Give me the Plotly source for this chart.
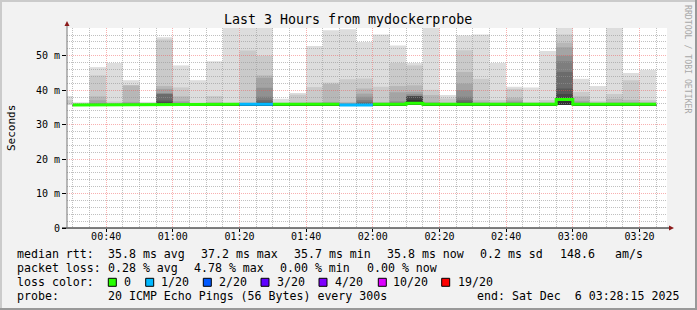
import plotly.graph_objects as go
from datetime import datetime, timedelta

# ---------------- data ----------------
graph_end = datetime(2025, 12, 6, 3, 28, 15)
graph_start = graph_end - timedelta(hours=3)
step_min = 5
first_bin_end = datetime(2025, 12, 6, 0, 30)
n_bins = 36
bin_ends = [first_bin_end + timedelta(minutes=step_min * k) for k in range(n_bins)]

# median RTT per 5-min bin (ms); None = not drawn
median_ms = [None, 35.7, 35.7, 35.7, 35.9, 35.9, 35.9, 35.9, 35.7, 35.7,
             35.9, 35.9, 35.9, 35.9, 35.9, 35.9, 35.9, 35.7, 35.7, 35.9,
             35.9, 36.2, 35.9, 35.9, 35.9, 35.9, 35.9, 35.9, 35.9, 35.9,
             37.3, 35.9, 35.9, 35.9, 35.9, 35.9]
# lost pings out of 20 per bin
loss_of_20 = [0, 0, 0, 0, 0, 0, 0, 0, 0, 0,
              0, 1, 1, 0, 0, 0, 0, 1, 1, 0,
              0, 0, 0, 0, 0, 0, 0, 0, 0, 0,
              0, 0, 0, 0, 0, 0]
# lower edge of smoke (lower half of the sorted pings, ms)
smoke_floor = [35.8, 35.5, 35.5, 35.5, 35.5, 35.5, 35.5, 35.5, 35.5, 35.5,
               35.5, 35.5, 35.5, 35.5, 35.5, 35.5, 35.5, 35.5, 35.5, 35.5,
               35.5, 35.8, 35.5, 35.5, 35.5, 35.5, 35.5, 35.5, 35.5, 35.5,
               35.7, 35.5, 35.5, 35.5, 35.5, 35.5]
# upper sorted pings (ms): 20th (max) .. 11th
ping20 = [38.3, 36.5, 46.7, 47.9, 42.9, 36.6, 55.4, 47.2, 42.9, 48.4,
          61.5, 63.0, 61.0, 37.5, 39.2, 52.8, 57.4, 57.7, 54.0, 56.2,
          53.0, 47.9, 60.0, 38.6, 55.9, 56.2, 47.9, 41.0, 40.8, 51.4,
          60.0, 43.3, 41.2, 60.0, 45.0, 45.9]
ping19 = [37.1, 36.2, 44.3, 36.7, 41.5, 36.3, 54.7, 40.8, 36.3, 38.3,
          36.4, 51.5, 50.0, 36.4, 38.7, 40.9, 42.2, 43.2, 43.4, 41.0,
          47.9, 47.2, 40.1, 37.6, 51.6, 43.3, 37.1, 40.4, 36.6, 37.1,
          56.2, 39.5, 36.8, 38.9, 42.9, 37.1]
ping18 = [35.8, 36.0, 38.2, 36.3, 41.4, 36.1, 41.2, 38.2, 36.1, 36.6,
          36.2, 36.4, 44.3, 36.2, 36.4, 36.6, 41.8, 36.6, 40.5, 36.6,
          41.2, 41.4, 38.6, 36.4, 45.3, 37.1, 36.5, 37.8, 36.3, 36.5,
          53.8, 38.2, 36.4, 37.5, 37.2, 36.5]
ping17 = [35.8, 35.9, 37.1, 36.1, 36.6, 36.0, 40.4, 36.8, 36.0, 36.2,
          36.1, 36.2, 43.6, 36.0, 36.2, 36.3, 36.6, 36.3, 39.0, 36.3,
          39.4, 39.5, 36.6, 36.2, 41.9, 36.5, 36.2, 37.0, 36.1, 36.2,
          52.5, 36.9, 36.2, 36.5, 36.5, 36.2]
ping16 = [35.8, 35.8, 36.3, 36.0, 36.3, 35.9, 39.1, 36.4, 35.9, 36.0,
          36.0, 36.1, 40.7, 35.9, 36.0, 36.1, 36.3, 36.1, 38.1, 36.1,
          36.8, 38.9, 36.3, 36.0, 40.0, 36.2, 36.0, 36.5, 36.0, 36.0,
          50.0, 36.4, 36.0, 36.2, 36.2, 36.0]
ping15 = [35.8, 35.8, 36.1, 35.9, 36.1, 35.9, 39.0, 36.2, 35.8, 35.9,
          35.9, 36.0, 38.1, 35.9, 35.9, 36.0, 36.1, 35.9, 37.1, 36.0,
          36.4, 38.4, 36.1, 35.9, 38.1, 36.0, 35.9, 36.2, 35.9, 35.9,
          48.4, 36.2, 35.9, 36.0, 36.0, 35.9]
ping14 = [35.8, 35.7, 36.0, 35.8, 36.0, 35.9, 38.9, 36.1, 35.8, 35.8,
          35.9, 35.9, 37.1, 35.9, 35.9, 35.9, 36.0, 35.8, 36.5, 35.9,
          36.2, 38.3, 36.0, 35.9, 37.1, 35.9, 35.9, 36.0, 35.9, 35.9,
          45.3, 36.0, 35.9, 35.9, 35.9, 35.9]
ping13 = [35.8, 35.7, 35.9, 35.8, 35.9, 35.9, 37.0, 36.0, 35.7, 35.8,
          35.9, 35.9, 36.5, 35.9, 35.9, 35.9, 35.9, 35.7, 36.2, 35.9,
          36.0, 38.3, 35.9, 35.9, 36.6, 35.9, 35.9, 35.9, 35.9, 35.9,
          40.5, 35.9, 35.9, 35.9, 35.9, 35.9]
ping12 = [35.8, 35.7, 35.8, 35.7, 35.9, 35.9, 36.5, 35.9, 35.7, 35.7,
          35.9, 35.9, 36.2, 35.9, 35.9, 35.9, 35.9, 35.7, 36.0, 35.9,
          35.9, 38.2, 35.9, 35.9, 36.2, 35.9, 35.9, 35.9, 35.9, 35.9,
          38.9, 35.9, 35.9, 35.9, 35.9, 35.9]
ping11 = [35.8, 35.7, 35.7, 35.7, 35.9, 35.9, 36.2, 35.9, 35.7, 35.7,
          35.9, 35.9, 36.0, 35.9, 35.9, 35.9, 35.9, 35.7, 35.8, 35.9,
          35.9, 37.1, 35.9, 35.9, 36.0, 35.9, 35.9, 35.9, 35.9, 35.9,
          37.8, 35.9, 35.9, 35.9, 35.9, 35.9]

x_tick_labels = ["00:40", "01:00", "01:20", "01:40", "02:00", "02:20", "02:40", "03:00", "03:20"]
y_tick_vals = [0, 10, 20, 30, 40, 50]
y_tick_labels = ["0", "10 m", "20 m", "30 m", "40 m", "50 m"]
y_max = 58.06

loss_levels = [0, 1, 2, 3, 4, 10, 19]
loss_labels = ["0", "1/20", "2/20", "3/20", "4/20", "10/20", "19/20"]
loss_colors = ["#26ff00", "#00b8ff", "#0059ff", "#5e00ff", "#7e00ff", "#dd00ff", "#ff0000"]

title = "Last 3 Hours from mydockerprobe"
stats_rtt = ["median rtt:", "35.8 ms avg", "37.2 ms max", "35.7 ms min", "35.8 ms now", "0.2 ms sd", "148.6", "am/s"]
stats_loss = ["packet loss:", "0.28 % avg", "4.78 % max", "0.00 % min", "0.00 % now"]
probe_text = ["probe:", "20 ICMP Echo Pings (56 Bytes) every 300s"]
end_text = "end: Sat Dec  6 03:28:15 2025"

# ---------------- layout helpers (pixel -> paper) ----------------
W, H = 697, 310
L, R, T, B = 67, 30, 28, 82
PW, PH = W - L - R, H - T - B


def X(px):
    return (px - L) / PW


def Y(py):
    return (H - B - py) / PH


MONO = "DejaVu Sans Mono"

fig = go.Figure()

# smoke layers
upper_sets = [ping20, ping19, ping18, ping17, ping16, ping15, ping14, ping13, ping12, ping11]
half = 10
bin_centers = [e - timedelta(minutes=step_min / 2) for e in bin_ends]
for i, ups in enumerate(upper_sets):
    ibot = i + 1
    c = int(190 / half * (half - ibot)) + 50
    col = "#%02x%02x%02x" % (c, c, c)
    fig.add_trace(go.Bar(
        x=bin_centers, y=[u - f for u, f in zip(ups, smoke_floor)], base=smoke_floor,
        width=step_min * 60 * 1000, marker=dict(color=col, line=dict(width=0)),
        hoverinfo="skip", xaxis="x", yaxis="y"))

# grid subplot on top of the smoke
fig.add_trace(go.Scatter(x=[graph_start], y=[0], mode="markers", marker=dict(opacity=0),
                         xaxis="x2", yaxis="y2", hoverinfo="skip"))

# median line coloured by loss
for lvl, col in zip(loss_levels, loss_colors):
    xs, ys = [], []
    for k in range(n_bins):
        m = median_ms[k]
        if m is None or loss_of_20[k] != lvl:
            if xs and xs[-1] is not None:
                xs.append(None)
                ys.append(None)
            continue
        xs += [bin_ends[k] - timedelta(minutes=step_min), bin_ends[k]]
        ys += [m, m]
    if any(v is not None for v in ys):
        fig.add_trace(go.Scatter(x=xs, y=ys, mode="lines", line=dict(color=col, width=3),
                                 xaxis="x2", yaxis="y2", hoverinfo="skip", connectgaps=False))

tick_dates = [datetime.strptime("2025-12-06 " + t, "%Y-%m-%d %H:%M") for t in x_tick_labels]
xr = [graph_start, graph_end]
yr = [0, y_max]
MAJ = "rgba(240,80,80,0.45)"
MIN = "rgba(150,150,150,0.6)"
DASH = "1px,1px"

fig.update_layout(
    width=W, height=H, margin=dict(l=L, r=R, t=T, b=B, autoexpand=False),
    paper_bgcolor="#f2f2f2", plot_bgcolor="rgba(0,0,0,0)", showlegend=False, barmode="overlay",
    font=dict(family=MONO, size=10, color="#000"),
    xaxis=dict(type="date", range=xr, domain=[0, 1], anchor="y", tickvals=tick_dates, ticktext=x_tick_labels,
               showgrid=False, zeroline=False, showline=False, ticks="outside", ticklen=3, tickcolor="#000",
               tickfont=dict(family=MONO, size=10), ticklabelstandoff=-4, fixedrange=True),
    yaxis=dict(range=yr, domain=[0, 1], anchor="x", tickvals=y_tick_vals, ticktext=y_tick_labels,
               showgrid=False, zeroline=False, showline=False, ticks="outside", ticklen=4, tickcolor="#000",
               tickfont=dict(family=MONO, size=10), fixedrange=True),
    xaxis2=dict(type="date", range=xr, domain=[0, 1], anchor="y2", tickmode="linear",
                tick0="2025-12-06 00:00:00", dtick=4 * step_min * 60 * 1000, showticklabels=False,
                showgrid=True, gridcolor=MAJ, griddash=DASH, gridwidth=1, zeroline=False, ticks="",
                minor=dict(tickmode="linear", dtick=step_min * 60 * 1000, tick0="2025-12-06 00:00:00",
                           showgrid=True, gridcolor=MIN, griddash=DASH, gridwidth=1, ticks=""),
                fixedrange=True),
    yaxis2=dict(range=yr, domain=[0, 1], anchor="x2", tickmode="linear", tick0=0, dtick=10,
                showticklabels=False,
                showgrid=True, gridcolor=MAJ, griddash=DASH, gridwidth=1, zeroline=False, ticks="",
                minor=dict(tickmode="linear", tick0=0, dtick=2, showgrid=True, gridcolor=MIN, griddash=DASH,
                           gridwidth=1, ticks=""),
                fixedrange=True),
)

shapes = []
# white canvas of the plot area
shapes.append(dict(type="rect", xref="paper", yref="paper", x0=0, x1=1, y0=0, y1=1,
                   fillcolor="#ffffff", line=dict(width=0), layer="below"))
# frame of the image
shapes.append(dict(type="rect", xref="paper", yref="paper", x0=X(0), x1=X(W), y0=Y(0), y1=Y(2),
                   fillcolor="#cbcbcb", line=dict(width=0), layer="above"))
shapes.append(dict(type="rect", xref="paper", yref="paper", x0=X(0), x1=X(2), y0=Y(H), y1=Y(0),
                   fillcolor="#cbcbcb", line=dict(width=0), layer="above"))
shapes.append(dict(type="rect", xref="paper", yref="paper", x0=X(W - 2), x1=X(W), y0=Y(H), y1=Y(0),
                   fillcolor="#999999", line=dict(width=0), layer="above"))
shapes.append(dict(type="rect", xref="paper", yref="paper", x0=X(0), x1=X(W), y0=Y(H), y1=Y(H - 2),
                   fillcolor="#999999", line=dict(width=0), layer="above"))
# axes lines + arrows
shapes.append(dict(type="line", xref="paper", yref="paper", x0=X(62), x1=X(670), y0=Y(228), y1=Y(228),
                   line=dict(color="#000", width=1), layer="above"))
shapes.append(dict(type="line", xref="paper", yref="paper", x0=X(67), x1=X(67), y0=Y(228), y1=Y(24),
                   line=dict(color="#777", width=1), layer="above"))
shapes.append(dict(type="path", xref="paper", yref="paper",
                   path="M %f %f L %f %f L %f %f Z" % (X(64.5), Y(26), X(69.5), Y(26), X(67), Y(21)),
                   fillcolor="#8b1a1a", line=dict(width=0), layer="above"))
shapes.append(dict(type="path", xref="paper", yref="paper",
                   path="M %f %f L %f %f L %f %f Z" % (X(669), Y(225.5), X(669), Y(230.5), X(674), Y(228)),
                   fillcolor="#8b1a1a", line=dict(width=0), layer="above"))

annotations = []


def ann(text, px, py, size=11.6, xanchor="left", color="#000", angle=0):
    annotations.append(dict(text=text.replace(" ", "\u00a0"), x=X(px), y=Y(py), xref="paper", yref="paper",
                            xanchor=xanchor, yanchor="middle", showarrow=False, borderpad=0,
                            font=dict(family=MONO, size=size, color=color), textangle=angle))


ann(title, 348, 19, size=13.3, xanchor="center")
ann("RRDTOOL / TOBI OETIKER", 688, 59, size=8.2, xanchor="center", color="#a8a8a8", angle=90)
ann("Seconds", 11, 128, size=11, xanchor="center", angle=-90)

rtt_x = [16, 107.3, 200, 293.3, 386, 479.3, 558.7, 614.3]
for t, px in zip(stats_rtt, rtt_x):
    ann(t, px, 254.3)
loss_x = [16, 107.3, 193.3, 279.3, 366]
for t, px in zip(stats_loss, loss_x):
    ann(t, px, 268.3)
ann("loss color:", 16, 282.3)
sq_x = [108.3, 145.7, 203.3, 261, 319, 378.3, 441.7]
lab_x = [123.3, 160, 218.3, 276, 334, 391.7, 456.7]
for lab, col, sx, lx in zip(loss_labels, loss_colors, sq_x, lab_x):
    shapes.append(dict(type="rect", xref="paper", yref="paper", x0=X(sx), x1=X(sx + 8), y0=Y(286.3), y1=Y(278.3),
                       fillcolor=col, line=dict(color="#000", width=1), layer="above"))
    ann(lab, lx, 282.3)
ann(probe_text[0], 16, 296)
ann(probe_text[1], 107.3, 296)
ann(end_text, 680, 296, xanchor="right")

fig.update_layout(shapes=shapes, annotations=annotations)
fig.write_html("out.html")
